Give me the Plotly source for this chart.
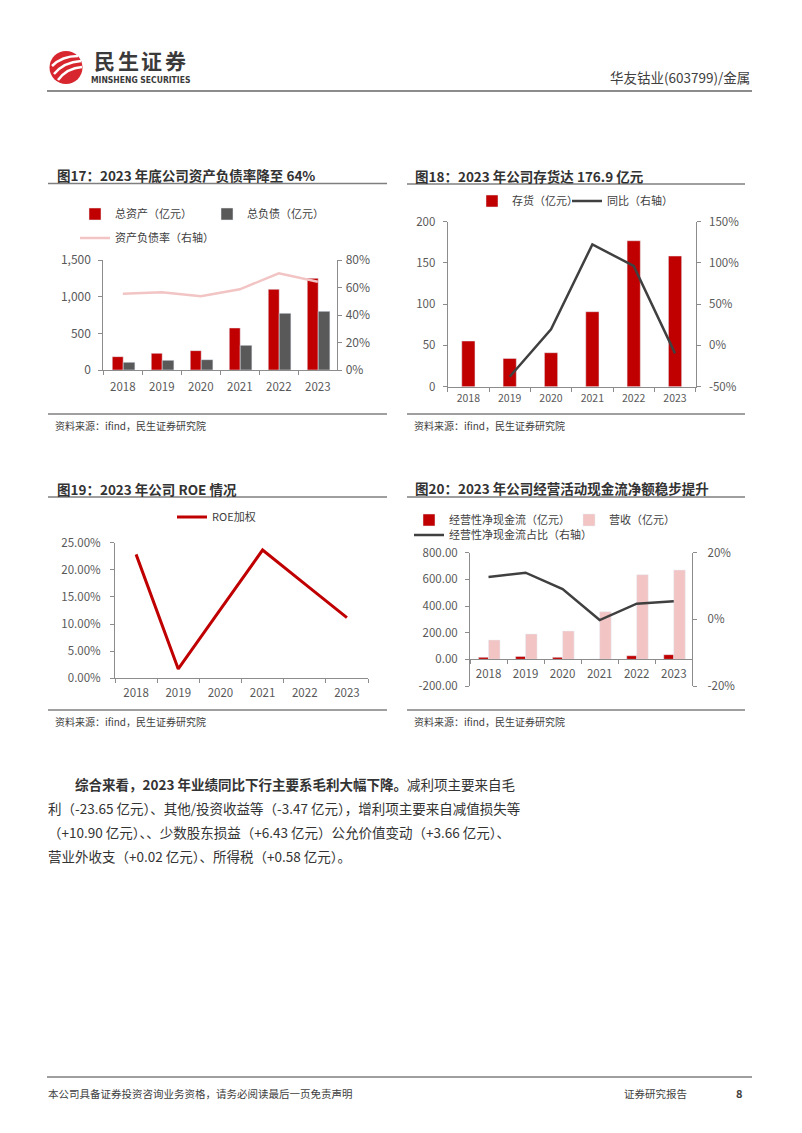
import plotly.graph_objects as go

W, H = 802, 1133
FONT = "Noto Sans CJK SC, Noto Sans, sans-serif"
AX = "#8c8c8c"
TICK = "#595959"
RED = "#C00000"
DARK = "#595959"
PINK = "#F2C4C4"
LINE_DARK = "#404040"


def px(x):
    return x / W


def py(y):
    return 1 - y / H


# ---------------- data ----------------
years = ["2018", "2019", "2020", "2021", "2022", "2023"]

# Fig 17
total_assets = [182, 227, 264, 573, 1100, 1250]
total_liab = [105, 132, 141, 336, 773, 800]
debt_ratio = [0.555, 0.565, 0.536, 0.587, 0.703, 0.642]

# Fig 18
inventory = [55.4, 34.3, 41.2, 90.9, 176.9, 158.4]
inventory_yoy = [None, -0.379, 0.195, 1.225, 0.963, -0.096]
c18_right_vals = [-0.5, 0, 0.5, 1.0, 1.5]
c18_right_text = ["-50%", "0%", "50%", "100%", "150%"]

# Fig 19
roe = [0.2285, 0.0172, 0.127, 0.2365, 0.174, 0.1118]

# Fig 20
ocf = [15, 22, 15, 1, 27, 35]
revenue = [145, 190, 212, 357, 635, 670]
ocf_ratio = [0.127, 0.140, 0.091, -0.002, 0.047, 0.054]
c20_left_vals = [-200, 0, 200, 400, 600, 800]
c20_left_text = ["-200.00", "0.00", "200.00", "400.00", "600.00", "800.00"]
c20_right_vals = [-0.2, 0, 0.2]
c20_right_text = ["-20%", "0%", "20%"]

fig = go.Figure()


def leg(x_text, y):
    return dict(x=px(x_text - 40), y=py(y), xanchor="left", yanchor="middle",
                orientation="h", bgcolor="rgba(0,0,0,0)", borderwidth=0,
                font=dict(size=11, color="#404040", family=FONT), itemwidth=30)


# ---- Fig 17 traces
fig.add_trace(go.Bar(x=years, y=total_assets, name="总资产（亿元）", marker_color=RED,
                     width=0.28, offset=-0.27, xaxis="x", yaxis="y", legend="legend"))
fig.add_trace(go.Bar(x=years, y=total_liab, name="总负债（亿元）", marker_color=DARK,
                     width=0.30, offset=0.01, xaxis="x", yaxis="y", legend="legend2"))
fig.add_trace(go.Scatter(x=years, y=debt_ratio, name="资产负债率（右轴）", mode="lines",
                         line=dict(color=PINK, width=2.5), xaxis="x", yaxis="y2", legend="legend3"))

# ---- Fig 18 traces
fig.add_trace(go.Bar(x=years, y=inventory, name="存货（亿元）", marker_color=RED,
                     width=0.32, offset=-0.16, xaxis="x2", yaxis="y3", legend="legend4"))
fig.add_trace(go.Scatter(x=years, y=inventory_yoy, name="同比（右轴）", mode="lines",
                         line=dict(color=LINE_DARK, width=2.5), xaxis="x2", yaxis="y4", legend="legend5"))

# ---- Fig 19 traces
fig.add_trace(go.Scatter(x=years, y=roe, name="ROE加权", mode="lines",
                         line=dict(color=RED, width=3), xaxis="x3", yaxis="y5", legend="legend6"))

# ---- Fig 20 traces
fig.add_trace(go.Bar(x=years, y=ocf, name="经营性净现金流（亿元）", marker_color=RED,
                     width=0.27, offset=-0.27, xaxis="x4", yaxis="y6", legend="legend7"))
fig.add_trace(go.Bar(x=years, y=revenue, name="营收（亿元）", marker_color=PINK,
                     width=0.31, offset=0.0, xaxis="x4", yaxis="y6", legend="legend8"))
fig.add_trace(go.Scatter(x=years, y=ocf_ratio, name="经营性净现金流占比（右轴）", mode="lines",
                         line=dict(color=LINE_DARK, width=2.5), xaxis="x4", yaxis="y7", legend="legend9"))

tickfont = dict(size=11.5, color=TICK, family=FONT)


def xax(x0, x1, anchor, **kw):
    d = dict(domain=[px(x0), px(x1)], anchor=anchor, type="category", range=[-0.5, 5.5],
             showline=True, linecolor=AX, linewidth=1, ticks="outside", tickson="boundaries",
             ticklen=4, tickcolor=AX, showgrid=False, zeroline=False, tickfont=tickfont,
             fixedrange=True, automargin=False)
    d.update(kw)
    return d


def yax(y0, y1, anchor, rng, **kw):
    d = dict(domain=[py(y1), py(y0)], anchor=anchor, range=rng, showline=True, linecolor=AX,
             linewidth=1, ticks="outside", ticklen=4, tickcolor=AX, showgrid=False,
             zeroline=False, tickfont=tickfont, fixedrange=True, automargin=False)
    d.update(kw)
    return d


def y2ax(overlay, anchor, rng, **kw):
    d = dict(overlaying=overlay, side="right", anchor=anchor, range=rng, showline=True,
             linecolor=AX, ticks="outside", ticklen=4, tickcolor=AX, showgrid=False,
             zeroline=False, fixedrange=True, tickfont=tickfont, automargin=False)
    d.update(kw)
    return d


layout = dict(
    width=W, height=H, margin=dict(l=0, r=0, t=0, b=0, pad=0, autoexpand=False),
    paper_bgcolor="white", plot_bgcolor="white", font=dict(family=FONT),
    barmode="overlay", showlegend=True,
    # fig 17
    xaxis=xax(103.3, 337.3, "y", ticklabelstandoff=6),
    yaxis=yax(260, 370, "x", [0, 1500], dtick=500, tickformat=",", ticklabelstandoff=5,
              tickfont=dict(size=12, color=TICK, family=FONT)),
    yaxis2=y2ax("y", "x", [0, 0.8], dtick=0.2, tickformat=".0%", ticklabelstandoff=1,
                tickfont=dict(size=12, color=TICK, family=FONT)),
    # fig 18
    xaxis2=xax(447.7, 695.7, "y3", ticklabelstandoff=2,
               tickfont=dict(size=10.5, color=TICK, family=FONT)),
    yaxis3=yax(221.7, 386.7, "x2", [0, 200], dtick=50, ticklabelstandoff=5),
    yaxis4=y2ax("y3", "x2", [-0.5, 1.5], tickvals=c18_right_vals, ticktext=c18_right_text,
                ticklabelstandoff=6),
    # fig 19
    xaxis3=xax(115, 368, "y5", ticklabelstandoff=4),
    yaxis5=yax(542.7, 678.3, "x3", [0, 0.25], dtick=0.05, tickformat=".2%", ticklabelstandoff=7),
    # fig 20
    xaxis4=xax(470, 692.3, "free", position=py(659.3), ticklabelstandoff=4),
    yaxis6=yax(552.7, 686, "x4", [-200, 800], tickvals=c20_left_vals, ticktext=c20_left_text,
               ticklabelstandoff=5),
    yaxis7=y2ax("y6", "x4", [-0.2, 0.2], tickvals=c20_right_vals, ticktext=c20_right_text,
                ticklabelstandoff=8),
    legend=leg(115, 214), legend2=leg(247, 214), legend3=leg(115, 238),
    legend4=leg(512, 201), legend5=leg(607, 201),
    legend6=leg(212, 517),
    legend7=leg(449, 520), legend8=leg(609, 520), legend9=leg(449, 535),
)
fig.update_layout(**layout)

shapes = []
ann = []


def hline(x0, x1, y, color="#7f7f7f", width=1.5):
    shapes.append(dict(type="line", xref="paper", yref="paper", x0=px(x0), x1=px(x1),
                       y0=py(y), y1=py(y), line=dict(color=color, width=width)))


def text(x, y, s, size, color="#404040", xanchor="left", bold=False, family=FONT):
    ann.append(dict(x=px(x), y=py(y), xref="paper", yref="paper", text=(f"<b>{s}</b>" if bold else s),
                    showarrow=False, xanchor=xanchor, yanchor="middle",
                    font=dict(size=size, color=color, family=family)))


# header logo
cx, cy, r = 66, 67.5, 16.5
shapes.append(dict(type="circle", xref="paper", yref="paper", x0=px(cx - r), x1=px(cx + r),
                   y0=py(cy + r), y1=py(cy - r), fillcolor="#D7262E", line=dict(width=0)))
for (a, b, c) in [((52, 66), (62, 56), (78, 56)), ((54, 74), (64, 62), (81, 61)),
                  ((58, 80), (67, 68), (82, 67))]:
    path = (f"M {px(a[0])} {py(a[1])} Q {px(b[0])} {py(b[1])} {px(c[0])} {py(c[1])}")
    shapes.append(dict(type="path", xref="paper", yref="paper", path=path,
                       line=dict(color="white", width=2.5)))
for i, ch in enumerate("民生证券"):
    text(104.7 + i * 23.5, 60.5, ch, 21, color="#3a3a3a", xanchor="center", bold=True)
text(140, 80, "MINSHENG SECURITIES", 8.5, color="#3a3a3a", xanchor="center", bold=True,
     family="DejaVu Sans Condensed, Liberation Sans Narrow, sans-serif")
text(752, 77, "华友钴业(603799)/金属", 13.5, color="#404040", xanchor="right")
hline(47, 752, 91, color="#8c8c8c", width=2)

# chart titles
titles = [(57, 175, "图17：2023 年底公司资产负债率降至 64%", 48, 387, 183.5),
          (415, 176, "图18：2023 年公司存货达 176.9 亿元", 407, 745, 184),
          (57, 489, "图19：2023 年公司 ROE 情况", 48, 387, 497),
          (415, 488, "图20：2023 年公司经营活动现金流净额稳步提升", 407, 745, 497)]
for tx, ty, s, l0, l1, ly in titles:
    text(tx - 2, ty, s, 13.5, color="#333333", bold=True)
    hline(l0, l1, ly)

# sources
for sx, lx0, lx1, ly, sy in [(55, 48, 387, 414, 425), (414, 407, 745, 414, 425),
                              (55, 48, 387, 710, 721), (414, 407, 745, 710, 721)]:
    hline(lx0, lx1, ly)
    text(sx - 2, sy, "资料来源：ifind，民生证券研究院", 10, color="#404040")

# paragraph
para = [(73, 784, "<b>综合来看，2023 年业绩同比下行主要系毛利大幅下降。</b>减利项主要来自毛"),
        (46, 808, "利（-23.65 亿元）、其他/投资收益等（-3.47 亿元），增利项主要来自减值损失等"),
        (46, 832, "（+10.90 亿元）、、少数股东损益（+6.43 亿元）公允价值变动（+3.66 亿元）、"),
        (46, 856, "营业外收支（+0.02 亿元）、所得税（+0.58 亿元）。")]
for x, y, s in para:
    text(x, y, s, 13.5, color="#333333")

# footer
hline(47, 752, 1077, color="#7f7f7f", width=1.5)
text(46, 1093, "本公司具备证券投资咨询业务资格，请务必阅读最后一页免责声明", 10.5, color="#404040")
text(689, 1093, "证券研究报告", 10.5, color="#404040", xanchor="right")
text(745, 1093, "8", 11, color="#404040", xanchor="right", bold=True)

fig.update_layout(shapes=shapes, annotations=ann)
fig.write_html("out.html",
               post_script="document.body.style.margin='0';document.body.style.padding='0';")
